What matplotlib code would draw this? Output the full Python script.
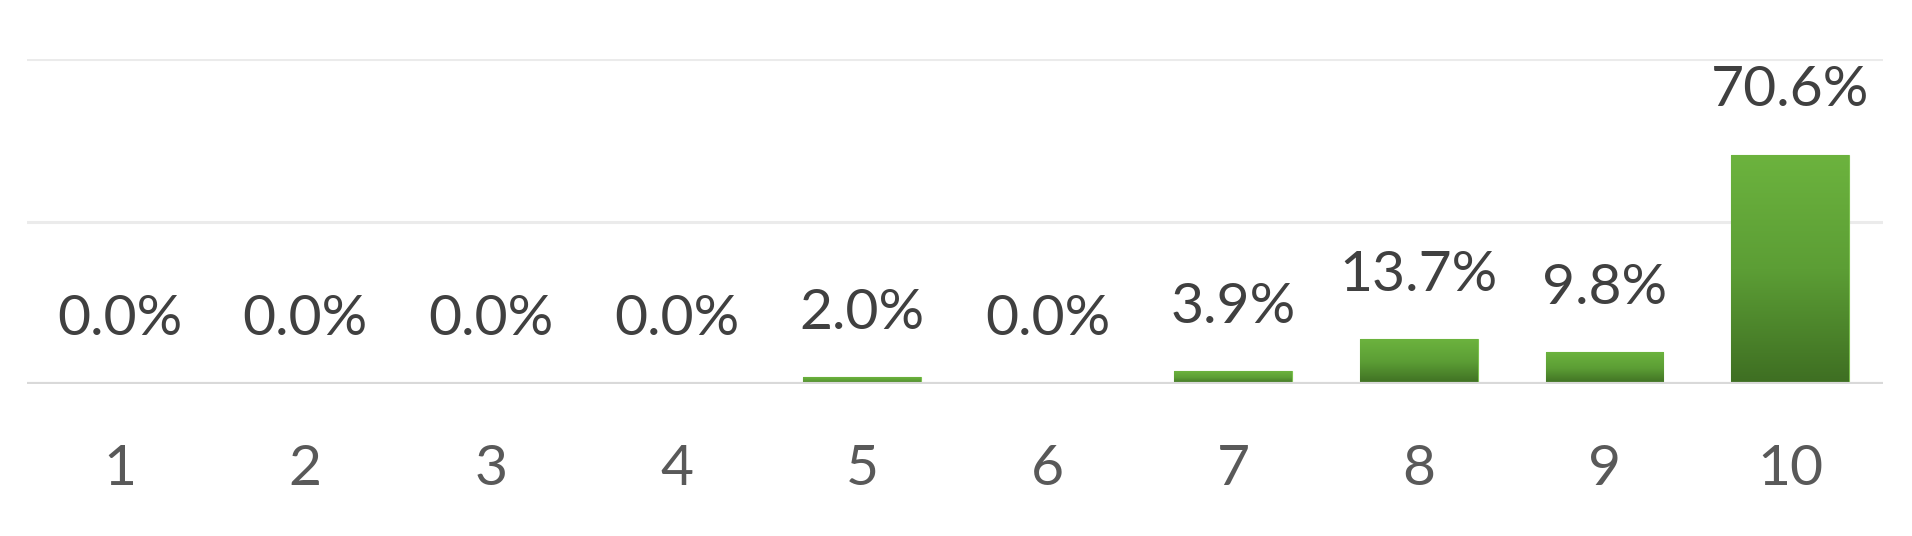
import numpy as np
import matplotlib.pyplot as plt
from matplotlib.colors import LinearSegmentedColormap

categories = ["1", "2", "3", "4", "5", "6", "7", "8", "9", "10"]
shares = [0.0, 0.0, 0.0, 0.0, 2.0, 0.0, 3.9, 13.7, 9.8, 70.6]   # percent of answers

plt.rcParams['font.family'] = ['Lato', 'DejaVu Sans']

fig = plt.figure(figsize=(19.12, 5.36), dpi=100)
ax = fig.add_axes([0.0141, 0.2836, 0.9707, 0.6063])

x = np.arange(len(categories))
bars = ax.bar(x, shares, width=0.635, color='#5a9a33', edgecolor='#7cc24f', linewidth=0.8, zorder=3)

# vertical gradient light green on top -> dark green at the bottom
green = LinearSegmentedColormap.from_list('green', ['#3e6e22', '#5c9e35', '#6cb33e'])
grad = np.linspace(0, 1, 256).reshape(-1, 1)
for b in bars:
    h = b.get_height()
    if h <= 0:
        continue
    x0 = b.get_x()
    im = ax.imshow(grad, cmap=green, origin='lower', aspect='auto',
                   extent=(x0, x0 + b.get_width(), 0, h), zorder=3.5)
    im.set_clip_path(b)

for xi, v in zip(x, shares):
    ax.annotate(f"{v:.1f}%", (xi, v), xytext=(0, 35), textcoords='offset points',
                ha='center', va='baseline', fontsize=41, color='#404040')

ax.set_xlim(-0.5, len(categories) - 0.5)
ax.set_ylim(0, 100)
ax.set_yticks([0, 50, 100])
ax.set_yticklabels([])
ax.grid(axis='y', color='#ebebeb', linewidth=2.2, zorder=0)
ax.axhline(0, color='#d9d9d9', linewidth=3, zorder=4)

ax.set_xticks(x)
ax.set_xticklabels(categories, fontsize=41, color='#595959')
ax.tick_params(axis='x', length=0, pad=43)
ax.tick_params(axis='y', length=0)
for s in ax.spines.values():
    s.set_visible(False)

fig.savefig('out.png', dpi=100)
